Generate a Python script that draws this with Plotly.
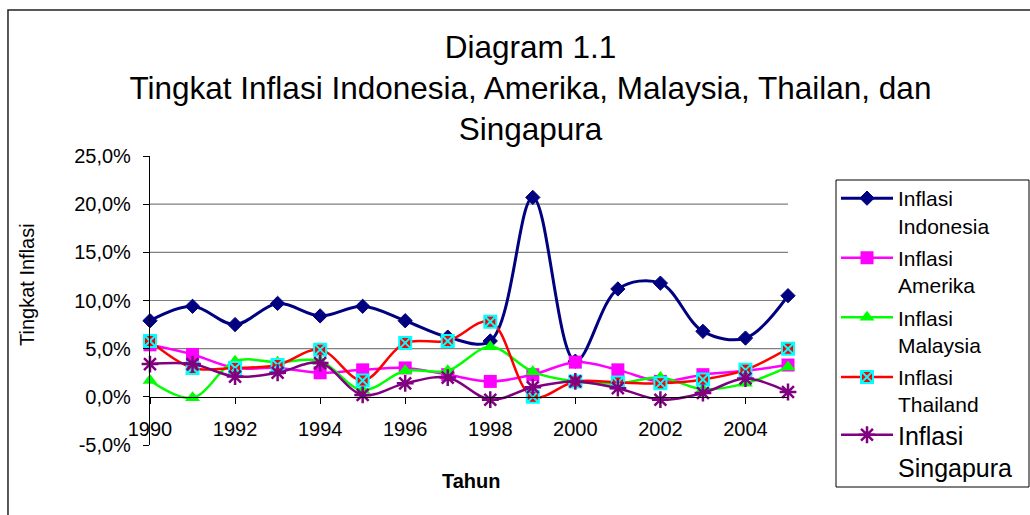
import plotly.graph_objects as go

years = list(range(1990, 2006))

inflasi_indonesia = [7.9, 9.4, 7.5, 9.7, 8.4, 9.4, 7.9, 6.2, 5.8, 20.7, 3.7, 11.2, 11.8, 6.8, 6.1, 10.5]
inflasi_amerika = [5.4, 4.4, 3.0, 3.0, 2.5, 2.8, 3.0, 2.3, 1.6, 2.3, 3.6, 2.8, 1.6, 2.3, 2.7, 3.3]
inflasi_malaysia = [1.7, -0.1, 3.7, 3.6, 3.7, 0.7, 2.7, 2.7, 5.2, 2.6, 1.6, 1.4, 2.0, 0.8, 1.4, 3.1]
inflasi_thailand = [5.8, 3.0, 3.0, 3.3, 4.9, 1.7, 5.6, 5.8, 7.8, 0.0, 1.6, 1.5, 1.4, 1.8, 2.8, 5.0]
inflasi_singapura = [3.4, 3.4, 2.1, 2.5, 3.5, 0.2, 1.4, 2.0, -0.3, 1.0, 1.6, 0.9, -0.3, 0.4, 1.9, 0.5]

x_tickvals = [1990, 1992, 1994, 1996, 1998, 2000, 2002, 2004]
y_tickvals = [-5, 0, 5, 10, 15, 20, 25]
y_ticktext = ["-5,0%", "0,0%", "5,0%", "10,0%", "15,0%", "20,0%", "25,0%"]
grid_vals = [5, 10, 15, 20]

series = [
    ("Inflasi<br>Indonesia", inflasi_indonesia, "#000080", "diamond", 11, "#000080", 1, 3, "legend"),
    ("Inflasi<br>Amerika", inflasi_amerika, "#FF00FF", "square", 13, "#FF00FF", 0, 2.5, "legend"),
    ("Inflasi<br>Malaysia", inflasi_malaysia, "#00FF00", "triangle-up", 13, "#00FF00", 0, 2.5, "legend"),
    ("Inflasi<br>Thailand", inflasi_thailand, "#FF0000", "square-x", 12, "#00FFFF", 2, 2.5, "legend"),
    ("Inflasi<br>Singapura", inflasi_singapura, "#800080", "asterisk-open", 14, "#800080", 2.5, 2.5, "legend2"),
]

fig = go.Figure()
for i, (name, vals, color, sym, size, lcol, lw, width, leg) in enumerate(series):
    fig.add_trace(go.Scatter(
        x=years, y=vals, name=name, mode="lines+markers",
        line=dict(color=color, width=width, shape="spline", smoothing=1),
        marker=dict(symbol=sym, size=size, color=color, line=dict(color=lcol, width=lw)),
        cliponaxis=False, legendgroup=f"g{i}", legend=leg,
    ))

for g in grid_vals:
    fig.add_shape(type="line", xref="x", yref="y", x0=years[0], x1=years[-1], y0=g, y1=g,
                  line=dict(color="#808080", width=1.2), layer="below")

# outer chart frame
fig.add_shape(type="rect", xref="paper", yref="paper", x0=-0.2226, x1=1.39, y0=-0.3, y1=1.505,
              line=dict(color="#222222", width=1.5), layer="below")
# legend frame
fig.add_shape(type="rect", xref="paper", yref="paper",
              x0=(836 - 150) / 638, x1=(1029 - 150) / 638,
              y0=(445 - 487) / 289, y1=(445 - 180) / 289,
              line=dict(color="black", width=1), fillcolor="white", layer="below")

ymin, ymax = -5, 25
fig.update_layout(
    width=1030, height=515,
    margin=dict(l=150, r=242, t=156, b=70),
    paper_bgcolor="white", plot_bgcolor="white",
    separators=",.",
    font=dict(family="Liberation Sans, Arial, sans-serif", color="black", size=20),
    title=dict(
        text="Diagram 1.1<br>Tingkat Inflasi Indonesia, Amerika, Malaysia, Thailan, dan<br>Singapura",
        x=0.515, xref="container", xanchor="center",
        y=1 - 58 / 515, yref="container", yanchor="top",
        font=dict(size=31.5, family="Liberation Sans, Arial, sans-serif", color="black"),
    ),
    xaxis=dict(
        range=[years[0], years[-1]], tickvals=x_tickvals, ticks="outside", ticklen=6,
        tickcolor="black", showline=True, linecolor="black", linewidth=1.2,
        showgrid=False, zeroline=False, anchor="free",
        position=(0 - ymin) / (ymax - ymin), ticklabelstandoff=8,
        tickfont=dict(size=20),
    ),
    yaxis=dict(
        range=[ymin, ymax], tickvals=y_tickvals, ticktext=y_ticktext, ticks="outside",
        ticklen=6, tickcolor="black", showline=True, linecolor="black", linewidth=1.2,
        showgrid=False, zeroline=False, ticklabelstandoff=8, tickfont=dict(size=20),
    ),
    legend=dict(
        x=(836 - 150) / 638, xanchor="left", y=(445 - 178) / 289, yanchor="top",
        borderwidth=0, bgcolor="rgba(0,0,0,0)",
        font=dict(size=21), valign="top", traceorder="grouped", tracegroupgap=2,
        itemwidth=52, maxheight=420,
    ),
    legend2=dict(
        x=(836 - 150) / 638, xanchor="left", y=(445 - 412) / 289, yanchor="top",
        borderwidth=0, bgcolor="rgba(0,0,0,0)",
        font=dict(size=25), valign="top", itemwidth=52,
    ),
    showlegend=True,
    annotations=[
        dict(text="Tingkat Inflasi", xref="paper", yref="paper",
             x=(27 - 150) / 638, y=(445 - 285) / 289, textangle=-90, showarrow=False,
             font=dict(size=20), xanchor="center", yanchor="middle"),
        dict(text="<b>Tahun</b>", xref="paper", yref="paper",
             x=(471 - 150) / 638, y=(445 - 481) / 289, showarrow=False,
             font=dict(size=20), xanchor="center", yanchor="middle"),
    ],
)

fig.write_html("out.html", config={"displayModeBar": False},
               post_script="document.body.style.margin='0px';")
